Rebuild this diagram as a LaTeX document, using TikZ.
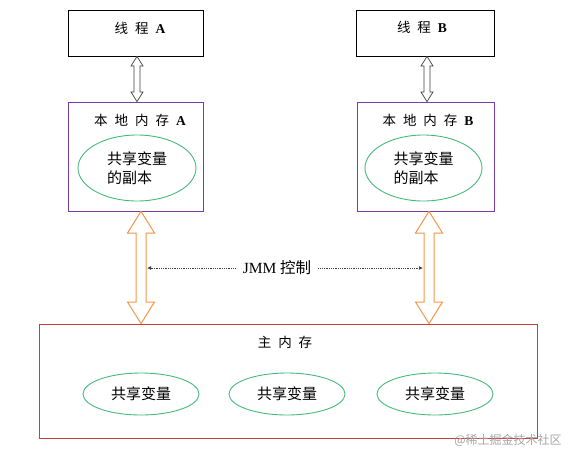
\documentclass[tikz,border=0pt]{standalone}
\usepackage{fontspec}
\setmainfont{Liberation Serif}
\newfontfamily\cjk{Noto Sans CJK SC}
\newfontfamily\cjkweit[WordSpace=2.3]{Noto Sans CJK SC}
\usetikzlibrary{shapes.geometric,arrows.meta,calc}
\definecolor{lila}{RGB}{120,60,170}
\definecolor{rahmenrot}{RGB}{200,60,60}
\definecolor{gruen}{RGB}{70,185,125}
\definecolor{pfeilorange}{RGB}{245,150,75}
\tikzset{
  faden/.style={draw=black, line width=0.8pt, minimum height=46, inner sep=0pt},
  speicher/.style={draw=lila, line width=0.8pt, minimum height=109, inner sep=0pt},
  hauptsp/.style={draw=rahmenrot, line width=0.8pt, minimum width=498, minimum height=114, inner sep=0pt},
  gemeinsam/.style={ellipse, draw=gruen, line width=0.9pt, inner sep=0pt, align=left,
    font=\cjk\fontsize{15}{19}\selectfont},
  titel/.style={font=\cjkweit\fontsize{13.5}{15}\selectfont, inner sep=1pt},
  steuer/.style={densely dotted, line width=0.8pt, black!75, -{Latex[length=4pt,width=4pt]}}
}
% Hohlpfeil zwischen zwei Knoten: Stil, von, nach, x, halbe Schaftbreite, halbe Spitzenbreite
\newcommand{\hohlpfeil}[6]{%
  \draw[#1] let \p1=(#2.south), \p2=(#3.north), \n1={1.6*#6} in
    (#4pt,\y1) -- (#4pt+#6pt,\y1-1pt*\n1) -- (#4pt+#5pt,\y1-1pt*\n1)
    -- (#4pt+#5pt,\y2+1pt*\n1) -- (#4pt+#6pt,\y2+1pt*\n1) -- (#4pt,\y2)
    -- (#4pt-#6pt,\y2+1pt*\n1) -- (#4pt-#5pt,\y2+1pt*\n1)
    -- (#4pt-#5pt,\y1-1pt*\n1) -- (#4pt-#6pt,\y1-1pt*\n1) -- cycle;}
\begin{document}
\begin{tikzpicture}[x=1pt, y=-1pt]
  \useasboundingbox (0,0) rectangle (573,459);
  % Threads oben
  \node[faden, minimum width=135] (fadenA) at (135.5,33) {};
  \node[titel] (tfadenA) at (140,28) {线 程 {\rmfamily\bfseries A}};
  \node[faden, minimum width=138] (fadenB) at (425,33) {};
  \node[titel] (tfadenB) at (422,27) {线 程 {\rmfamily\bfseries B}};
  % lokale Speicher
  \node[speicher, minimum width=135] (speicherA) at (135.5,156.5) {};
  \node[titel] (tspeicherA) at (140,120) {本 地 内 存 {\rmfamily\bfseries A}};
  \node[gemeinsam, minimum width=118, minimum height=66] (kopieA) at (137,168) {共享变量\\的副本};
  \node[speicher, minimum width=137] (speicherB) at (425.5,156.5) {};
  \node[titel] (tspeicherB) at (428,120) {本 地 内 存 {\rmfamily\bfseries B}};
  \node[gemeinsam, minimum width=117, minimum height=66] (kopieB) at (423.5,168) {共享变量\\的副本};
  % Hauptspeicher
  \node[hauptsp] (haupt) at (288,381) {};
  \node[titel] (thaupt) at (285,342) {主 内 存};
  \foreach \i/\x in {1/141, 2/287, 3/435}
    \node[gemeinsam, minimum width=116, minimum height=42] (var\i) at (\x,394) {共享变量};
  % Pfeile Thread <-> lokaler Speicher
  \hohlpfeil{draw=black!75, fill=white, line width=0.7pt}{fadenA}{speicherA}{137}{3}{6}
  \hohlpfeil{draw=black!75, fill=white, line width=0.7pt}{fadenB}{speicherB}{427}{3}{6}
  % Pfeile lokaler Speicher <-> Hauptspeicher
  \hohlpfeil{draw=pfeilorange, fill=white, line width=1pt}{speicherA}{haupt}{141}{5}{13.5}
  \hohlpfeil{draw=pfeilorange, fill=white, line width=1pt}{speicherB}{haupt}{429}{5}{13.5}
  % JMM-Steuerung
  \node[font=\fontsize{15.5}{17}\selectfont, inner sep=7pt] (jmm) at (277,268) {JMM {\cjk 控制}};
  \coordinate (ctlA) at (147,268);
  \coordinate (ctlB) at (423,268);
  \draw[steuer] (jmm.west) -- (ctlA);
  \draw[steuer] (jmm.east) -- (ctlB);
  % Wasserzeichen
  \node[font=\cjk\fontsize{12}{13}\selectfont, text=black!35, inner sep=0pt] (marke) at (508,440) {@稀土掘金技术社区};
\end{tikzpicture}
\end{document}
